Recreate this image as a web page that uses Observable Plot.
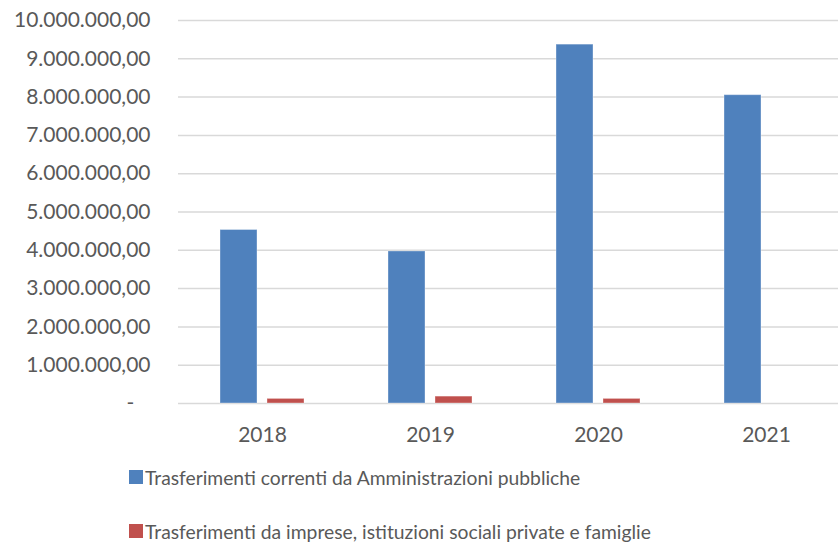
<!DOCTYPE html>
<html>
<head>
<meta charset="utf-8">
<script src="https://cdn.jsdelivr.net/npm/d3@7"></script>
<script src="https://cdn.jsdelivr.net/npm/@observablehq/plot@0.6"></script>
<style>
  html, body { margin: 0; padding: 0; background: #fff; }
  #wrap { width: 838px; height: 544px; overflow: hidden; font-family: Lato, "Open Sans", sans-serif; color: #595959; }
  .row { height: 54px; display: flex; align-items: center; padding-left: 129px; font-size: 19.3px; }
  .sw { width: 14px; height: 14px; margin-right: 2px; flex: none; }
</style>
</head>
<body>
<div id="wrap"></div>
<script>
const years = ["2018", "2019", "2020", "2021"];
const seriesNames = [
  "Trasferimenti correnti da Amministrazioni pubbliche",
  "Trasferimenti da imprese, istituzioni sociali private e famiglie"
];
const pubbliche = [4530000, 3970000, 9370000, 8050000];
const imprese = [120000, 180000, 120000, 0];
const colors = ["#4F81BD", "#C0504D"];
const yTicks = [0, 1e6, 2e6, 3e6, 4e6, 5e6, 6e6, 7e6, 8e6, 9e6, 1e7];

const data = [];
years.forEach((yr, i) => {
  data.push({year: yr, series: seriesNames[0], value: pubbliche[i]});
  data.push({year: yr, series: seriesNames[1], value: imprese[i]});
});

const fmt = v => v === 0 ? "-\u00a0\u00a0\u00a0" :
  d3.format(",.2f")(v).replace(/,/g, "#").replace(".", ",").replace(/#/g, ".");

const chart = Plot.plot({
  width: 838,
  height: 450,
  marginLeft: 178,
  marginRight: -12,
  marginTop: 20,
  marginBottom: 47,
  style: {fontFamily: "Lato, 'Open Sans', sans-serif", fontSize: "21px", color: "#595959", background: "#fff"},
  fx: {domain: years, padding: 0, label: null, axis: "bottom", tickSize: 0, tickPadding: 24},
  x: {domain: seriesNames, axis: null, paddingInner: 0.22, paddingOuter: 0.88},
  y: {domain: [0, 1e7], axis: null},
  color: {domain: seriesNames, range: colors},
  marks: [
    Plot.ruleY(yTicks, {stroke: "#d9d9d9", strokeWidth: 1.5}),
    Plot.axisY({ticks: yTicks, tickFormat: fmt, tickSize: 0, tickPadding: 28, label: null, fill: "#595959", fontSize: 21}),
    Plot.barY(data, {fx: "year", x: "series", y: "value", fill: "series", stroke: "#ffffff", strokeOpacity: 0.35, strokeWidth: 1})
  ]
});

const wrap = document.getElementById("wrap");
wrap.appendChild(chart);
seriesNames.forEach((s, i) => {
  const row = document.createElement("div");
  row.className = "row";
  const sw = document.createElement("span");
  sw.className = "sw";
  sw.style.background = colors[i];
  const t = document.createElement("span");
  t.textContent = s;
  row.appendChild(sw);
  row.appendChild(t);
  wrap.appendChild(row);
});
</script>
</body>
</html>
